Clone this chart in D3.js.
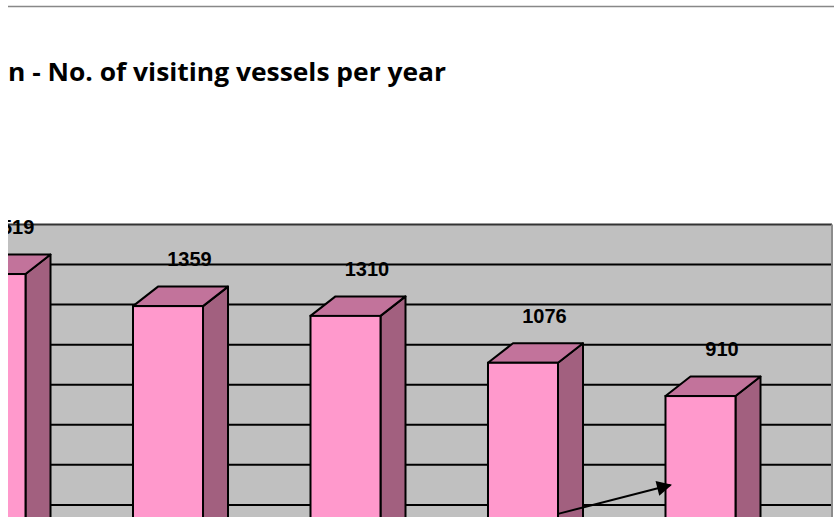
<!DOCTYPE html>
<html>
<head>
<meta charset="utf-8">
<script src="https://cdn.jsdelivr.net/npm/d3@7"></script>
<style>
  html, body { margin: 0; padding: 0; background: #fff; }
  svg { display: block; }
</style>
</head>
<body>
<svg id="chart"></svg>
<script>
// visible part of the chart: the axis labels fall outside the crop,
// so the categories are only kept in order
const periods = ["p1", "p2", "p3", "p4", "p5"];
const vessels = [1519, 1359, 1310, 1076, 910];
const gridTicks = [200, 400, 600, 800, 1000, 1200, 1400, 1600];
const titleText = "n - No. of visiting vessels per year";

const width = 834;
const height = 517;

const svg = d3.select("#chart")
    .attr("width", width)
    .attr("height", height);

// rule line above the title
svg.append("line")
    .attr("x1", 8).attr("x2", width)
    .attr("y1", 6.5).attr("y2", 6.5)
    .attr("stroke", "#888")
    .attr("stroke-width", 1.6);

svg.append("text")
    .attr("x", 8)
    .attr("y", 81)
    .attr("font-family", "'Open Sans', sans-serif")
    .attr("font-weight", "bold")
    .attr("font-size", 25)
    .attr("textLength", 438)
    .attr("lengthAdjust", "spacingAndGlyphs")
    .attr("fill", "#000")
    .text(titleText);

// clip the chart to the cropped region
svg.append("clipPath").attr("id", "crop")
    .append("rect")
    .attr("x", 8).attr("y", 0)
    .attr("width", width - 8).attr("height", height);

const g = svg.append("g").attr("clip-path", "url(#crop)");

// scales (front plane of the bars)
const x = d3.scaleBand()
    .domain(periods)
    .range([-44.5, 735.5])
    .paddingInner(0.6056)
    .paddingOuter(0);

const y = d3.scaleLinear()
    .domain([0, 1600])
    .range([578.4, 257.8]);

const bw = x.bandwidth();
// depth of a bar and of the back wall, in screen offsets
const depth = { dx: 25, dy: -19.5 };
const wallDy = -33.4;
const wallRight = 832;

// back wall
g.append("rect")
    .attr("x", 8)
    .attr("y", y(1600) + wallDy)
    .attr("width", wallRight - 8)
    .attr("height", height - (y(1600) + wallDy) + 10)
    .attr("fill", "#c0c0c0");

// gridlines on the wall
g.append("g")
    .selectAll("line")
    .data(gridTicks)
    .enter().append("line")
    .attr("x1", 8).attr("x2", wallRight)
    .attr("y1", d => y(d) + wallDy)
    .attr("y2", d => y(d) + wallDy)
    .attr("stroke", d => d === 1600 ? "#333" : "#000")
    .attr("stroke-width", 2);

// right edge of the wall
g.append("line")
    .attr("x1", wallRight).attr("x2", wallRight)
    .attr("y1", y(1600) + wallDy).attr("y2", height)
    .attr("stroke", "#8c8c8c")
    .attr("stroke-width", 2);

// 3D bars
const bars = g.append("g")
    .selectAll(".bar")
    .data(vessels.map((v, i) => ({ period: periods[i], value: v })))
    .enter().append("g")
    .attr("class", "bar");

const y0 = y(0);

bars.append("path")   // side face
    .attr("d", d => {
        const xr = x(d.period) + bw, yt = y(d.value);
        return `M${xr},${yt}L${xr + depth.dx},${yt + depth.dy}L${xr + depth.dx},${y0 + depth.dy}L${xr},${y0}Z`;
    })
    .attr("fill", "#a2607f")
    .attr("stroke", "#000")
    .attr("stroke-width", 2)
    .attr("stroke-linejoin", "round");

bars.append("path")   // top face
    .attr("d", d => {
        const xl = x(d.period), yt = y(d.value);
        return `M${xl},${yt}L${xl + depth.dx},${yt + depth.dy}L${xl + bw + depth.dx},${yt + depth.dy}L${xl + bw},${yt}Z`;
    })
    .attr("fill", "#c2739b")
    .attr("stroke", "#000")
    .attr("stroke-width", 2)
    .attr("stroke-linejoin", "round");

bars.append("rect")   // front face
    .attr("x", d => x(d.period))
    .attr("y", d => y(d.value))
    .attr("width", bw)
    .attr("height", d => y0 - y(d.value))
    .attr("fill", "#ff99cc")
    .attr("stroke", "#000")
    .attr("stroke-width", 2);

// value labels
bars.append("text")
    .attr("x", d => x(d.period) + (bw + depth.dx) / 2 + 9)
    .attr("y", d => y(d.value) - 40)
    .attr("text-anchor", "middle")
    .attr("font-family", "'Liberation Sans', Arial, sans-serif")
    .attr("font-weight", "bold")
    .attr("font-size", 20)
    .attr("fill", "#000")
    .text(d => d.value);

// annotation arrow between the last two bars
svg.append("defs").append("marker")
    .attr("id", "head")
    .attr("viewBox", "0 0 10 10")
    .attr("refX", 9).attr("refY", 5)
    .attr("markerWidth", 9).attr("markerHeight", 7.5)
    .attr("markerUnits", "strokeWidth")
    .attr("orient", "auto")
    .append("path")
    .attr("d", "M0,0L10,5L0,10Z")
    .attr("fill", "#000");

g.append("line")
    .attr("x1", x(periods[3]) + bw)
    .attr("y1", y(322))
    .attr("x2", x(periods[4]) + 5)
    .attr("y2", y(466))
    .attr("stroke", "#000")
    .attr("stroke-width", 2)
    .attr("marker-end", "url(#head)");
</script>
</body>
</html>
